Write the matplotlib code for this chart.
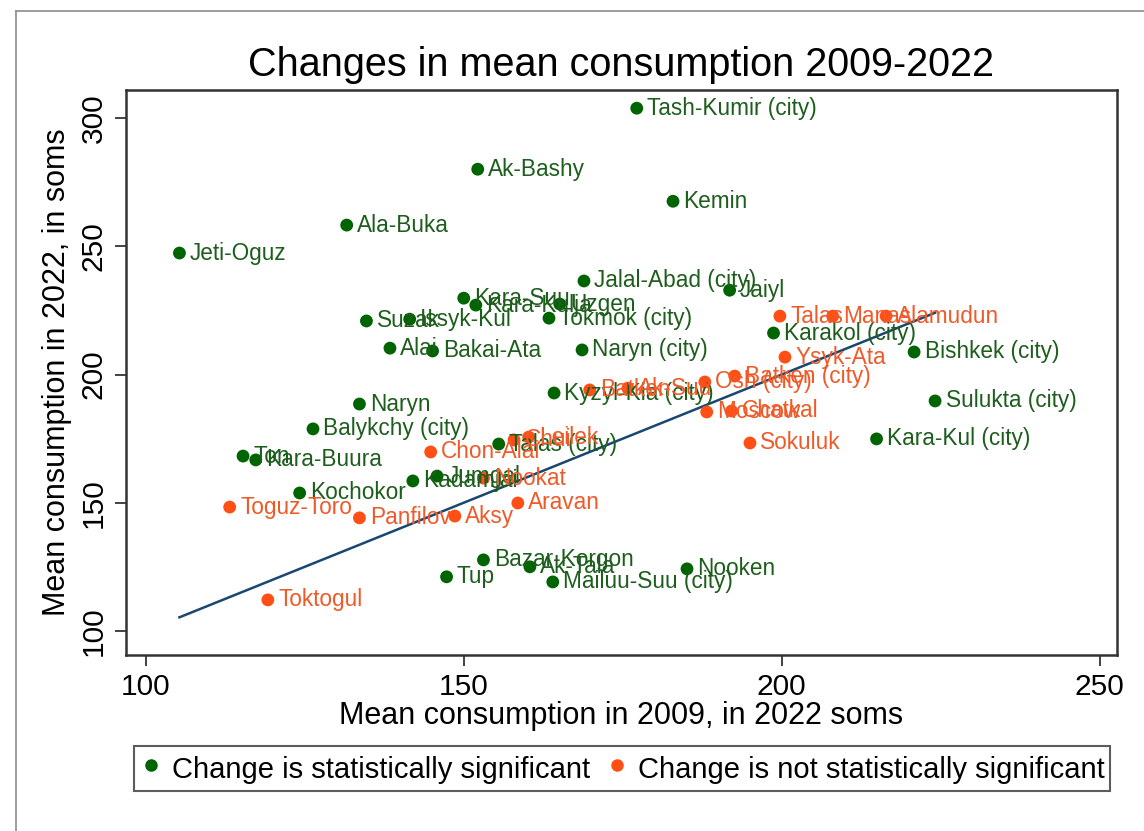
import matplotlib.pyplot as plt
from matplotlib.lines import Line2D
import numpy as np

plt.rcParams['font.family'] = ['Liberation Sans', 'DejaVu Sans']

# Districts/cities where the 2009-2022 change is statistically significant
sig_names = ['Tash-Kumir (city)', 'Ak-Bashy', 'Kemin', 'Ala-Buka', 'Jeti-Oguz',
             'Jalal-Abad (city)', 'Jaiyl', 'Kara-Suu', 'Kara-Kulja', 'Uzgen',
             'Tokmok (city)', 'Suzak', 'Issyk-Kul', 'Karakol (city)', 'Bishkek (city)',
             'Alai', 'Bakai-Ata', 'Naryn (city)', 'Kyzyl-Kia (city)', 'Sulukta (city)',
             'Naryn', 'Balykchy (city)', 'Kara-Kul (city)', 'Talas (city)', 'Ton',
             'Kara-Buura', 'Jumgal', 'Kadamjai', 'Kochokor', 'Bazar-Korgon',
             'Ak-Tala', 'Tup', 'Mailuu-Suu (city)', 'Nooken']
sig_2009 = [177.2, 152.2, 182.9, 131.6, 105.3,
            168.9, 191.8, 150.0, 151.9, 165.1,
            163.4, 134.7, 141.5, 198.7, 220.8,
            138.4, 145.1, 168.6, 164.2, 224.1,
            133.6, 126.3, 214.9, 155.5, 115.3,
            117.3, 145.8, 142.0, 124.2, 153.1,
            160.4, 147.3, 164.0, 185.1]
sig_2022 = [303.9, 280.1, 267.6, 258.3, 247.4,
            236.5, 232.9, 229.8, 227.1, 227.5,
            222.0, 220.9, 221.6, 216.2, 208.8,
            210.3, 209.2, 209.6, 192.8, 189.7,
            188.5, 178.8, 174.9, 172.9, 168.2,
            166.7, 160.4, 158.5, 153.8, 127.7,
            125.0, 121.1, 119.1, 124.2]

# Districts/cities where the change is not statistically significant
ns_names = ['Talas', 'Manas', 'Alamudun', 'Ysyk-Ata', 'Batken (city)',
            'Osh (city)', 'Batken', 'Ak-Suu', 'Moscow', 'Chatkal',
            'Sokuluk', 'Chui', 'Leilek', 'Chon-Alai', 'Nookat',
            'Aravan', 'Aksy', 'Panfilov', 'Toguz-Toro', 'Toktogul']
ns_2009 = [199.7, 208.0, 216.4, 200.5, 192.6,
           187.9, 169.8, 175.8, 188.2, 192.1,
           195.0, 157.9, 160.2, 144.8, 153.1,
           158.5, 148.6, 133.6, 113.2, 119.2]
ns_2022 = [222.8, 222.8, 222.8, 206.8, 199.4,
           197.1, 194.0, 194.7, 185.4, 185.8,
           173.3, 174.5, 175.6, 169.8, 159.6,
           149.9, 144.8, 144.1, 148.3, 112.1]

GREEN = '#006400'
GREEN_TXT = '#1d5e1d'
ORANGE = '#ff4f14'
ORANGE_TXT = '#f05a28'
NAVY = '#1a476f'

fig = plt.figure(figsize=(11.44, 8.31), dpi=100)
ax = fig.add_axes([126 / 1144, 1 - 655 / 831, (1117 - 126) / 1144, (655 - 90) / 831])

# 45-degree reference line across the range of 2009 values
all_x = np.array(sig_2009 + ns_2009)
xs = np.array([all_x.min(), all_x.max()])
ax.plot(xs, xs, color=NAVY, lw=1.8, zorder=2)

for names, xv, yv, mc, tc in [(sig_names, sig_2009, sig_2022, GREEN, GREEN_TXT),
                              (ns_names, ns_2009, ns_2022, ORANGE, ORANGE_TXT)]:
    ax.scatter(xv, yv, s=85, color=mc, edgecolors='none', zorder=3)
    for n, x, y in zip(names, xv, yv):
        ax.annotate(n, (x, y), xytext=(7.5, 0), textcoords='offset points',
                    va='center', ha='left', fontsize=16.3, color=tc, zorder=4)

ax.set_xlim(96.9, 252.7)
ax.set_ylim(90.6, 311.0)
ax.set_xticks([100, 150, 200, 250])
ax.set_yticks([100, 150, 200, 250, 300])
ax.tick_params(axis='both', direction='out', length=8, width=1.2, color='#222',
               labelsize=21.5, pad=5)
plt.setp(ax.get_yticklabels(), rotation=90, va='center')
for sp in ax.spines.values():
    sp.set_linewidth(1.8)
    sp.set_color('#333333')

ax.set_xlabel('Mean consumption in 2009, in 2022 soms', fontsize=22, labelpad=0)
ax.set_ylabel('Mean consumption in 2022, in soms', fontsize=22, labelpad=6)
fig.text(621 / 1144, 1 - 65 / 831, 'Changes in mean consumption 2009-2022',
         ha='center', va='center', fontsize=28.5)

handles = [Line2D([], [], marker='o', ls='none', color=GREEN, markersize=8),
           Line2D([], [], marker='o', ls='none', color=ORANGE, markersize=8)]
leg = fig.legend(handles, ['Change is statistically significant',
                           'Change is not statistically significant'],
                 loc='center', bbox_to_anchor=(622 / 1144, 1 - 768.5 / 831),
                 ncol=2, fontsize=21, frameon=True, fancybox=False,
                 handletextpad=0.3, columnspacing=0.55, borderpad=0.2,
                 handleheight=1.4, handlelength=0.8)
leg.get_frame().set_edgecolor('#333333')
leg.get_frame().set_linewidth(1.5)

# outer grey frame
fig.add_artist(Line2D([16 / 1144, 1], [1 - 11 / 831, 1 - 11 / 831],
                      color='#8c8c8c', lw=1.2, transform=fig.transFigure))
fig.add_artist(Line2D([16 / 1144, 16 / 1144], [0, 1 - 11 / 831],
                      color='#8c8c8c', lw=1.2, transform=fig.transFigure))

fig.savefig('out.png', dpi=100)
